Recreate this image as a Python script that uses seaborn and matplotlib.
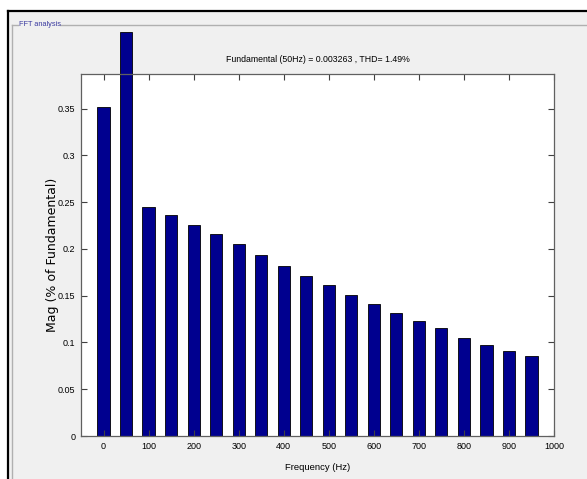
import matplotlib
matplotlib.use("Agg")
import matplotlib.pyplot as plt
import seaborn as sns
from matplotlib.lines import Line2D

# Harmonic spectrum
freqs = [0, 50, 100, 150, 200, 250, 300, 350, 400, 450,
         500, 550, 600, 650, 700, 750, 800, 850, 900, 950]
mags = [0.352, 0.432, 0.245, 0.236, 0.226, 0.216, 0.205, 0.194, 0.182, 0.171,
        0.161, 0.151, 0.141, 0.132, 0.123, 0.115, 0.105, 0.097, 0.091, 0.086]
xticks = [0, 100, 200, 300, 400, 500, 600, 700, 800, 900, 1000]
yticks = [0, 0.05, 0.1, 0.15, 0.2, 0.25, 0.3, 0.35]
title = "Fundamental (50Hz) = 0.003263 , THD= 1.49%"

narrow = ["Liberation Sans Narrow", "Liberation Sans", "DejaVu Sans"]

fig = plt.figure(figsize=(5.87, 4.79), dpi=100, facecolor="white")
W, H = 587, 479

# grey window background and frame
fig.patches.append(plt.Rectangle((9 / W, 0), 1, 1 - 11 / H, transform=fig.transFigure,
                                 facecolor="#f0f0f0", edgecolor="none", zorder=-5))
fig.add_artist(Line2D([8 / W, 1], [1 - 10.5 / H] * 2, color="black", lw=1.6))
fig.add_artist(Line2D([8 / W] * 2, [0, 1 - 10.5 / H], color="black", lw=1.6))
# group box
fig.add_artist(Line2D([12 / W] * 2, [0, 1 - 25 / H], color="#b0b0b0", lw=1))
fig.add_artist(Line2D([12 / W, 18 / W], [1 - 25 / H] * 2, color="#b0b0b0", lw=1))
fig.add_artist(Line2D([60 / W, 1], [1 - 25 / H] * 2, color="#b0b0b0", lw=1))
fig.text(19 / W, 1 - 24.5 / H, "FFT analysis", color="#3a3aa0", fontsize=5.3,
         family=narrow, va="center", ha="left")

ax = fig.add_axes([81 / W, 1 - 436 / H, 473 / W, 362 / H])
ax.set_facecolor("white")

sns.barplot(x=freqs, y=mags, native_scale=True, width=0.54, color="#00008f",
            saturation=1, edgecolor="black", linewidth=0.6, ax=ax)
for p in ax.patches:
    p.set_clip_on(False)

ax.set_xlim(-50, 1000)
ax.set_ylim(0, 0.387)
ax.set_xticks(xticks)
ax.set_xticklabels([str(t) for t in xticks], family=narrow, fontsize=6.5)
ax.set_yticks(yticks)
ax.set_yticklabels(["0", "0.05", "0.1", "0.15", "0.2", "0.25", "0.3", "0.35"],
                   family=narrow, fontsize=6.5)
ax.tick_params(direction="in", length=4, width=0.8, top=True, right=True,
               color="#404040", pad=4)
for s in ax.spines.values():
    s.set_color("#606060")
    s.set_linewidth(0.9)

ax.set_title(title, family=narrow, fontsize=6.3, pad=9)
ax.set_xlabel("Frequency (Hz)", family=narrow, fontsize=6.8, labelpad=9)
ax.set_ylabel("Mag (% of Fundamental)", family="DejaVu Sans", fontsize=9,
              labelpad=-1)

fig.savefig("out.png", dpi=100)
